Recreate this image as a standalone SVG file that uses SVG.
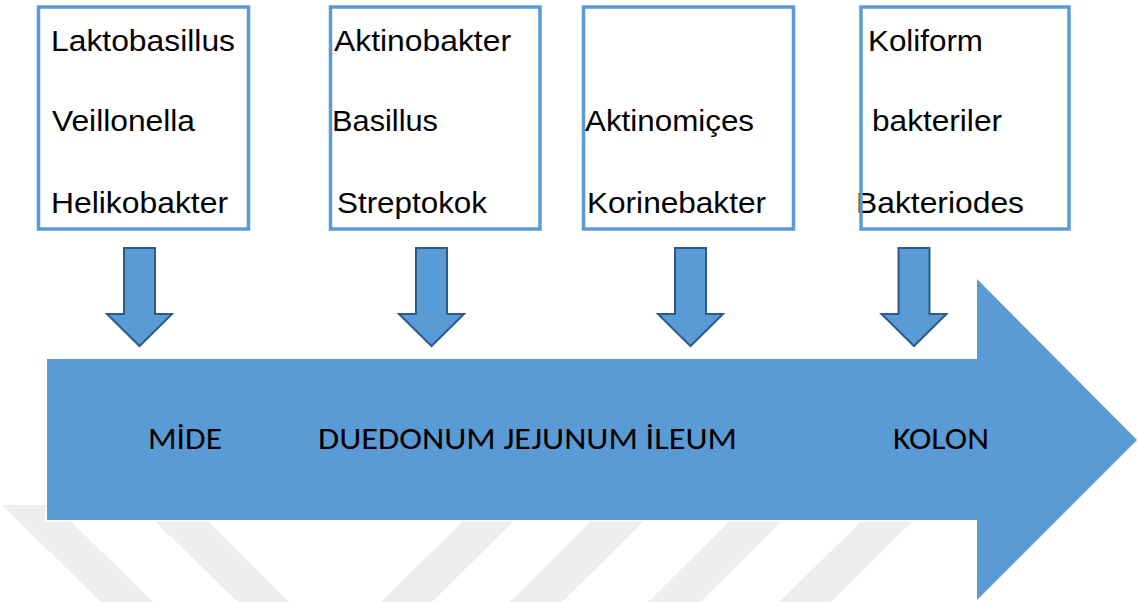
<svg xmlns="http://www.w3.org/2000/svg" width="1138" height="602" viewBox="0 0 1138 602">
<style>
.box{fill:#ffffff;stroke:#5b9bd5;stroke-width:3.5}
.bt{font-family:"Liberation Sans",Arial,sans-serif;font-size:30px;fill:#000000}
.lbl{font-family:Carlito,Lato,"Liberation Sans",sans-serif;font-size:30px;fill:#000000}
.down{fill:#5b9bd5;stroke:#2d5a88;stroke-width:2;stroke-linejoin:miter}
.stripe{fill:#eeeeee}
</style>
<rect x="0" y="0" width="1138" height="602" fill="#ffffff"/>
<g id="watermark">
<polygon class="stripe" points="2,505 54,505 153,602 101,602"/>
<polygon class="stripe" points="140,507 193,507 289,602 238,602"/>
<polygon class="stripe" points="477,507 528,507 432,602 381,602"/>
<polygon class="stripe" points="605,507 658,507 562,602 510,602"/>
<polygon class="stripe" points="744,507 796,507 700,602 648,602"/>
<polygon class="stripe" points="876,507 927,507 831,602 779,602"/>
</g>
<g id="flow-arrow">
<polygon points="47,359 977,359 977,279 1137,440 977,600 977,520 47,520" fill="#5b9bd5" stroke="#ffffff" stroke-width="3"/>
<polygon points="47,359 977,359 977,279 1137,440 977,600 977,520 47,520" fill="#5b9bd5"/>
<text class="lbl" x="148" y="449" textLength="74" lengthAdjust="spacingAndGlyphs">MİDE</text>
<text class="lbl" x="318" y="449" textLength="419" lengthAdjust="spacingAndGlyphs">DUEDONUM JEJUNUM İLEUM</text>
<text class="lbl" x="893" y="449" textLength="96" lengthAdjust="spacingAndGlyphs">KOLON</text>
</g>
<g id="box-mide">
<rect class="box" x="38.5" y="7" width="210" height="222"/>
<text class="bt" x="51" y="51" textLength="184" lengthAdjust="spacingAndGlyphs">Laktobasillus</text>
<text class="bt" x="52" y="131" textLength="143" lengthAdjust="spacingAndGlyphs">Veillonella</text>
<text class="bt" x="51" y="213" textLength="177" lengthAdjust="spacingAndGlyphs">Helikobakter</text>
</g>
<g id="box-duedonum">
<rect class="box" x="330.5" y="7" width="209.5" height="222"/>
<text class="bt" x="334" y="51" textLength="177" lengthAdjust="spacingAndGlyphs">Aktinobakter</text>
<text class="bt" x="332" y="131" textLength="106" lengthAdjust="spacingAndGlyphs">Basillus</text>
<text class="bt" x="337" y="213" textLength="150" lengthAdjust="spacingAndGlyphs">Streptokok</text>
</g>
<g id="box-ileum">
<rect class="box" x="583.5" y="7" width="210" height="222"/>
<text class="bt" x="585" y="131" textLength="169" lengthAdjust="spacingAndGlyphs">Aktinomiçes</text>
<text class="bt" x="587" y="213" textLength="179" lengthAdjust="spacingAndGlyphs">Korinebakter</text>
</g>
<g id="box-kolon">
<text class="bt" x="868" y="51" textLength="115" lengthAdjust="spacingAndGlyphs">Koliform</text>
<text class="bt" x="872" y="131" textLength="130" lengthAdjust="spacingAndGlyphs">bakteriler</text>
<text class="bt" x="856" y="213" textLength="168" lengthAdjust="spacingAndGlyphs">Bakteriodes</text>
<rect class="box" x="861" y="7" width="208" height="222" fill="none" style="fill:none"/>
</g>
<g id="connectors">
<polygon class="down" points="124,248 155,248 155,314 172,314 139.5,346 107,314 124,314"/>
<polygon class="down" points="416,248 447,248 447,314 464,314 431.5,346 399,314 416,314"/>
<polygon class="down" points="675,248 706,248 706,314 723,314 690.5,346 658,314 675,314"/>
<polygon class="down" points="898.5,248 929.5,248 929.5,314 946.5,314 914,346 881.5,314 898.5,314"/>
</g>
</svg>
